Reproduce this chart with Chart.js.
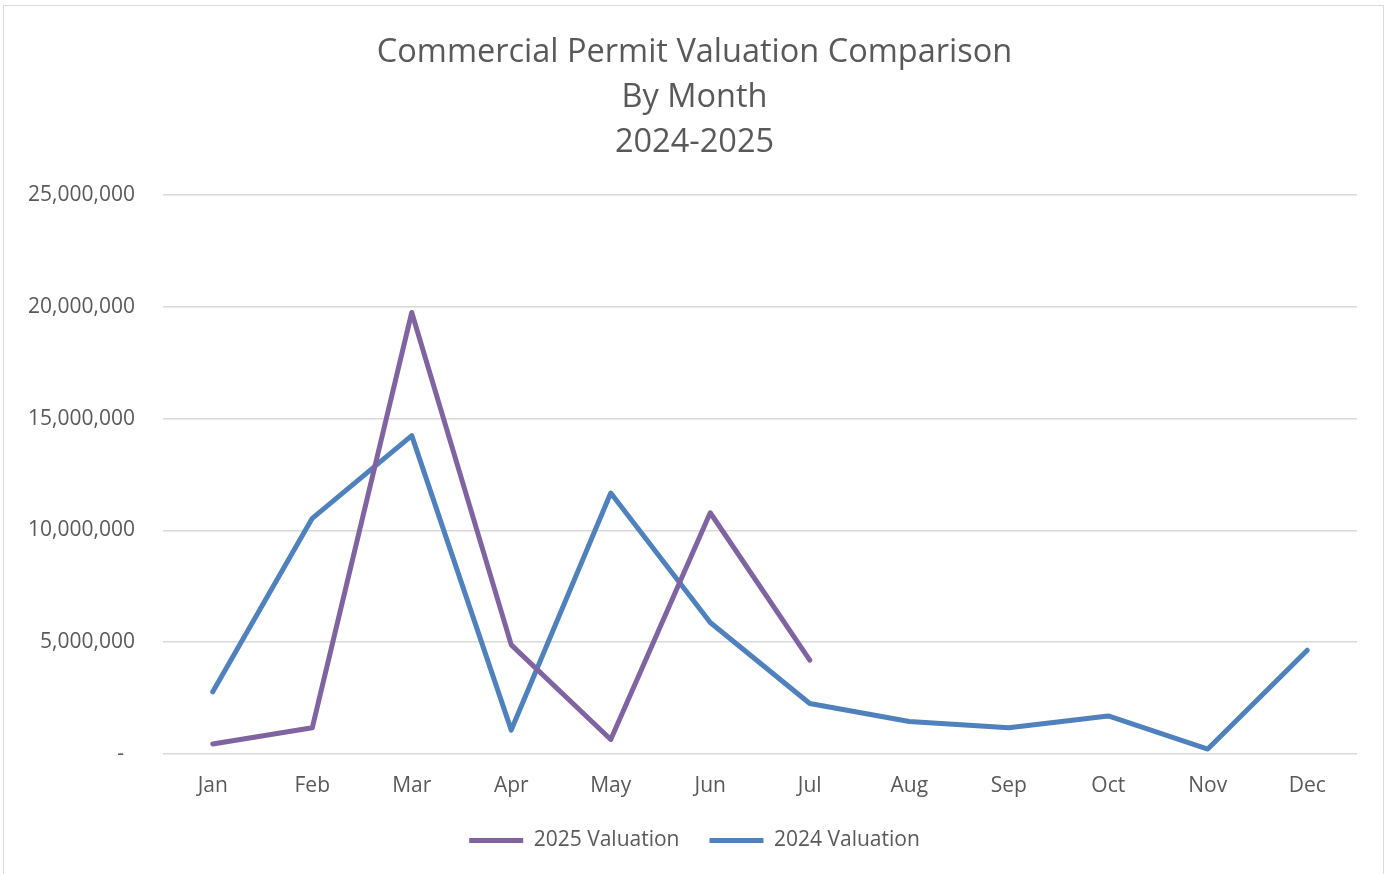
<!DOCTYPE html>
<html>
<head>
<meta charset="utf-8">
<script src="https://cdn.jsdelivr.net/npm/chart.js@4/dist/chart.umd.min.js"></script>
<style>
  html, body { margin: 0; padding: 0; background: #fff; overflow: hidden; }
  #wrap { position: absolute; left: 0; top: 0; width: 1389px; height: 874px; }
  #frame { position: absolute; left: 3px; top: 5px; width: 1381px; height: 900px; border: 1.5px solid #d9d9d9; box-sizing: border-box; }
  canvas { position: absolute; left: 0; top: 0; }
</style>
</head>
<body>
<div id="wrap">
  <div id="frame"></div>
  <canvas id="c" width="1389" height="874"></canvas>
</div>
<script>
const months = ['Jan','Feb','Mar','Apr','May','Jun','Jul','Aug','Sep','Oct','Nov','Dec'];
const val2025 = [450000, 1170000, 19750000, 4880000, 650000, 10790000, 4200000, null, null, null, null, null];
const val2024 = [2780000, 10540000, 14240000, 1070000, 11670000, 5880000, 2260000, 1450000, 1170000, 1700000, 220000, 4640000];
const titleLines = ['Commercial Permit Valuation Comparison', 'By Month', '2024-2025'];
const seriesNames = ['2025 Valuation', '2024 Valuation'];
const yMax = 25000000;
const yStep = 5000000;

const FONT = '"Open Sans", "Noto Sans", sans-serif';
const TXT = '#595959';

new Chart(document.getElementById('c'), {
  type: 'line',
  data: {
    labels: months,
    datasets: [
      { label: seriesNames[0], data: val2025, borderColor: '#8064A2', backgroundColor: '#8064A2',
        borderWidth: 5, pointRadius: 0, borderCapStyle: 'round', borderJoinStyle: 'round', tension: 0, spanGaps: false },
      { label: seriesNames[1], data: val2024, borderColor: '#4F81BD', backgroundColor: '#4F81BD',
        borderWidth: 5, pointRadius: 0, borderCapStyle: 'round', borderJoinStyle: 'round', tension: 0 }
    ]
  },
  options: {
    responsive: false,
    animation: false,
    events: [],
    layout: { padding: { left: 0, right: 0, top: 0, bottom: 13 } },
    plugins: {
      title: {
        display: true,
        text: titleLines,
        color: TXT,
        font: { family: FONT, size: 32.5, weight: 'normal', lineHeight: 1.385 },
        padding: { top: 30, bottom: 30 }
      },
      legend: {
        position: 'bottom',
        labels: {
          color: TXT,
          font: { family: FONT, size: 21 },
          usePointStyle: true,
          pointStyle: 'line',
          pointStyleWidth: 54,
          boxHeight: 21,
          padding: 30
        }
      },
      tooltip: { enabled: false }
    },
    scales: {
      x: {
        offset: true,
        afterFit: (s) => { s.height = 46; },
        grid: { display: false, drawTicks: false },
        border: { display: false },
        ticks: { color: TXT, font: { family: FONT, size: 21 }, padding: 19, maxRotation: 0, autoSkip: false }
      },
      y: {
        min: 0,
        max: yMax,
        afterFit: (s) => { s.width = 163; },
        grid: { color: '#d9d9d9', lineWidth: 1.5, drawTicks: false },
        border: { display: false },
        ticks: {
          stepSize: yStep,
          color: TXT,
          font: { family: FONT, size: 21 },
          padding: 28,
          callback: (v) => v === 0 ? '-  ' : v.toLocaleString('en-US')
        }
      },
      yr: {
        position: 'right',
        display: true,
        min: 0,
        max: yMax,
        afterFit: (s) => { s.width = 32; },
        grid: { display: false, drawTicks: false },
        border: { display: false },
        ticks: { display: false }
      }
    }
  }
});
</script>
</body>
</html>
